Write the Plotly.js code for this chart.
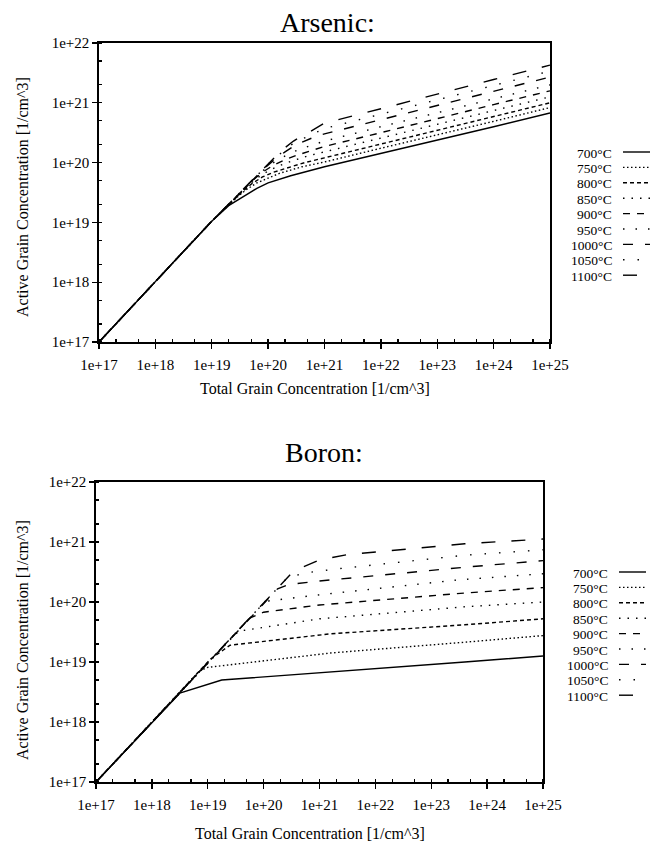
<!DOCTYPE html>
<html>
<head>
<meta charset="utf-8">
<script src="https://cdn.plot.ly/plotly-3.0.1.min.js"></script>
<style>html,body{margin:0;padding:0;background:#fff;}#chart{width:658px;height:846px;}</style>
</head>
<body>
<div id="chart"></div>
<script>
// ---- data (log10 exponents) ----
const temps = ['700°C','750°C','800°C','850°C','900°C','950°C','1000°C','1050°C','1100°C'];
const xTickExps = [17,18,19,20,21,22,23,24,25];
const xTickText = ['1e+17','1e+18','1e+19','1e+20','1e+21','1e+22','1e+23','1e+24','1e+25'];
const yTickExps = [17,18,19,20,21,22];
const yTickText = ['1e+17','1e+18','1e+19','1e+20','1e+21','1e+22'];

const arsenicX = [
  [17,19,19.3,19.5,19.65,19.8,20,20.4,21,22,23,24,25],
  [17,19,19.45,19.6,19.8,20.0,20.2,20.6,21,22,23,24,25],
  [17,19,19.55,19.7,19.9,20.1,20.3,20.65,21,22,23,24,25],
  [17,19,19.65,19.8,20.0,20.2,20.4,20.7,21,22,23,24,25],
  [17,19,19.75,19.9,20.1,20.3,20.5,20.75,21,22,23,24,25],
  [17,19,19.85,20.0,20.2,20.4,20.55,20.8,21,22,23,24,25],
  [17,19,19.95,20.1,20.3,20.45,20.6,20.8,21,22,23,24,25],
  [17,19,20.05,20.2,20.4,20.55,20.7,20.85,21,22,23,24,25],
  [17,19,20.15,20.3,20.45,20.6,20.75,20.9,21,22,23,24,25]
];
const arsenicY = [
  [17,19.02,19.28,19.4,19.49,19.57,19.66,19.78,19.93,20.15,20.38,20.6,20.83],
  [17,19.02,19.42,19.54,19.66,19.74,19.82,19.93,20.01,20.24,20.46,20.69,20.92],
  [17,19.02,19.52,19.64,19.76,19.84,19.9,20.0,20.08,20.31,20.54,20.77,21.0],
  [17,19.02,19.62,19.74,19.86,19.95,20.02,20.11,20.18,20.41,20.64,20.87,21.1],
  [17,19.02,19.72,19.84,19.96,20.05,20.12,20.2,20.27,20.5,20.74,20.97,21.2],
  [17,19.02,19.82,19.94,20.06,20.16,20.22,20.3,20.36,20.6,20.83,21.07,21.3],
  [17,19.02,19.92,20.04,20.18,20.27,20.34,20.42,20.48,20.72,20.95,21.19,21.43],
  [17,19.02,20.02,20.14,20.29,20.37,20.44,20.51,20.57,20.81,21.05,21.29,21.53],
  [17,19.02,20.12,20.25,20.36,20.45,20.52,20.6,20.66,20.9,21.15,21.39,21.63]
];
const boronX = [
  [17,18.5,19.25,21.2,23.6,25],
  [17,18.85,19.0,21.2,23.6,25],
  [17,19.05,19.4,21.2,23.6,25],
  [17,19.5,19.6,21.0,23.6,25],
  [17,19.75,20.0,21.0,23.6,25],
  [17,19.98,20.1,21.0,23.5,25],
  [17,20.25,20.45,21.0,23.6,25],
  [17,20.4,20.7,21.3,23.6,25],
  [17,20.5,20.7,21.0,21.5,22.5,23.6,25]
];
const boronY = [
  [17,18.48,18.70,18.83,19.0,19.1],
  [17,18.85,18.91,19.15,19.33,19.44],
  [17,19.05,19.28,19.47,19.62,19.72],
  [17,19.47,19.52,19.72,19.92,20.0],
  [17,19.73,19.83,19.95,20.15,20.24],
  [17,19.96,20.02,20.12,20.37,20.47],
  [17,20.22,20.29,20.35,20.58,20.69],
  [17,20.38,20.48,20.55,20.78,20.87],
  [17,20.48,20.58,20.7,20.79,20.87,20.97,21.05]
];

// ---- styles ----
const dashes = ['solid','1.5px,2.5px','4px,3px','1.5px,7px','7px,7px','1.5px,11px','10px,12px','1.5px,13px','14px,16px'];
const W = 658, H = 846;
const serif = 'Liberation Serif, Times New Roman, serif';
const pow10 = a => a.map(v => Math.pow(10, v));

const traces = [];
function addSeries(X, Y, xa, ya) {
  X.forEach((xs, i) => {
    traces.push({
      type: 'scatter', mode: 'lines', x: pow10(xs), y: pow10(Y[i]),
      xaxis: xa, yaxis: ya, name: temps[i], showlegend: false,
      line: {color: '#000', width: 1.4, dash: dashes[i]}, hoverinfo: 'skip'
    });
  });
}
addSeries(arsenicX, arsenicY, 'x', 'y');
addSeries(boronX, boronY, 'x2', 'y2');

function xAxis(d0, d1, anchor) {
  return {
    type: 'log', domain: [d0 / W, d1 / W], anchor: anchor, range: [17, 25],
    tickmode: 'array', tickvals: pow10(xTickExps), ticktext: xTickText,
    ticks: 'outside', ticklen: 5, tickwidth: 1.3, tickcolor: '#000',
    showline: true, linewidth: 1.7, linecolor: '#000', mirror: true,
    showgrid: false, zeroline: false, ticklabelstandoff: 3,
    tickfont: {family: serif, size: 15, color: '#000'},
    minor: {ticks: 'inside', ticklen: 3, tickcolor: '#000', dtick: 'D2', showgrid: false}
  };
}
function yAxis(top, bottom, anchor) {
  return {
    type: 'log', domain: [1 - bottom / H, 1 - top / H], anchor: anchor, range: [17, 22],
    tickmode: 'array', tickvals: pow10(yTickExps), ticktext: yTickText,
    ticks: 'outside', ticklen: 5, tickwidth: 1.3, tickcolor: '#000',
    showline: true, linewidth: 1.7, linecolor: '#000', mirror: true,
    showgrid: false, zeroline: false,
    tickfont: {family: serif, size: 15, color: '#000'},
    minor: {ticks: 'inside', ticklen: 3, tickcolor: '#000', dtick: 'D2', showgrid: false}
  };
}

const ann = [];
const shapes = [];
function txt(text, px, py, size, opts) {
  ann.push(Object.assign({
    text: text, xref: 'paper', yref: 'paper', x: px / W, y: 1 - py / H,
    showarrow: false, xanchor: 'center', yanchor: 'middle',
    font: {family: serif, size: size, color: '#000'}
  }, opts || {}));
}
txt('Arsenic:', 327, 22, 28);
txt('Boron:', 324, 452, 28);
txt('Total Grain Concentration [1/cm^3]', 315, 388, 16);
txt('Total Grain Concentration [1/cm^3]', 310, 833, 16);
txt('Active Grain Concentration [1/cm^3]', 23, 197, 16, {textangle: -90});
txt('Active Grain Concentration [1/cm^3]', 22, 640, 16, {textangle: -90});

function legend(textRight, y0, lx0, lx1) {
  temps.forEach((t, i) => {
    const cy = y0 + i * 15.4;
    txt(t, textRight, cy, 13.5, {xanchor: 'right', borderpad: 0});
    shapes.push({
      type: 'line', xref: 'paper', yref: 'paper',
      x0: lx0 / W, x1: lx1 / W, y0: 1 - (cy - 1) / H, y1: 1 - (cy - 1) / H,
      line: {color: '#000', width: 1.4, dash: dashes[i]}
    });
  });
}
legend(613, 153, 623, 650);
legend(609, 573, 619, 646);

const layout = {
  width: W, height: H, margin: {l: 0, r: 0, t: 0, b: 0},
  paper_bgcolor: '#fff', plot_bgcolor: '#fff', showlegend: false,
  xaxis: xAxis(99, 550, 'y'), yaxis: yAxis(43, 342, 'x'),
  xaxis2: xAxis(96, 543, 'y2'), yaxis2: yAxis(482, 782, 'x2'),
  annotations: ann, shapes: shapes
};
Plotly.newPlot('chart', traces, layout, {staticPlot: true, displayModeBar: false});
</script>
</body>
</html>
